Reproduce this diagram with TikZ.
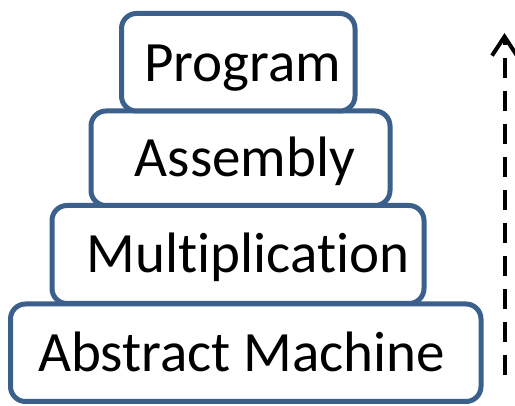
\documentclass[tikz,border=0pt]{standalone}
\usepackage{fontspec}
\setmainfont[Ligatures={NoCommon,NoContextual},Contextuals=NoAlternate,RawFeature={-liga,-clig,-calt,-dlig}]{Carlito}
\usetikzlibrary{arrows.meta}
\definecolor{boxblue}{RGB}{60,96,140}
\tikzset{
  layer/.style={draw=boxblue, line width=5pt, fill=white, rounded corners=15pt, inner sep=0pt},
  label/.style={anchor=base, inner sep=0pt, font=\fontsize{57}{62}\selectfont, text=black},
  uparrow/.style={line width=4pt, dash pattern=on 20pt off 13pt, -{Straight Barb[length=19pt,width=25pt]}}
}
\begin{document}
\begin{tikzpicture}[x=1pt,y=-1pt]
\useasboundingbox (0,0) rectangle (515,406);
\node[layer, minimum width=470.5pt, minimum height=97.5pt] (am) at (245.75,352.75) {};
\node[layer, minimum width=372pt, minimum height=98pt] (mult) at (238,254.5) {};
\node[layer, minimum width=299pt, minimum height=94.5pt] (asm) at (240.5,158.25) {};
\node[layer, minimum width=233.5pt, minimum height=97.5pt] (prog) at (238.25,62.25) {};
\node[label] (amt) at (241.5,372) {Abstract Machine};
\node[label] (multt) at (248,273) {Multiplication};
\node[label] (asmt) at (245,177) {Assembly};
\node[label] (progt) at (242.5,82) {Program};
\coordinate (arrbot) at (504.5,375);
\coordinate (arrtop) at (504.5,33);
\draw[uparrow] (arrbot) -- (arrtop);
\end{tikzpicture}
\end{document}
